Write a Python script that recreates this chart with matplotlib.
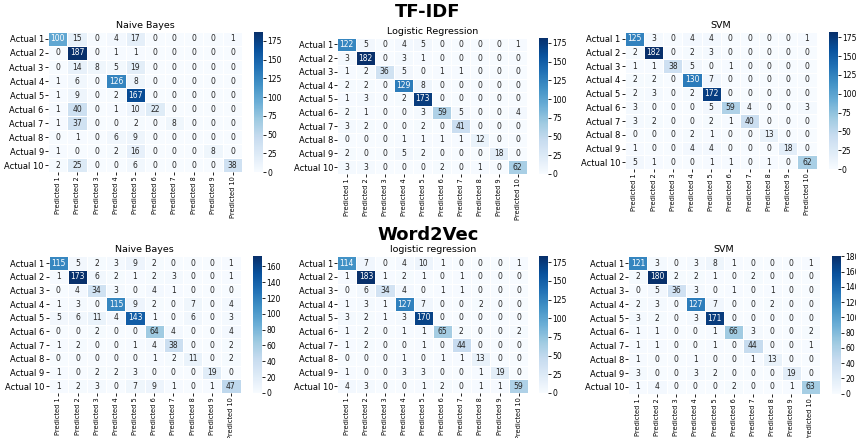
import numpy as np
import matplotlib.pyplot as plt

# confusion matrices (rows = actual, cols = predicted)
tfidf_nb = [
    [100, 15, 0, 4, 17, 0, 0, 0, 0, 1],
    [0, 187, 0, 1, 1, 0, 0, 0, 0, 0],
    [0, 14, 8, 5, 19, 0, 0, 0, 0, 0],
    [1, 6, 0, 126, 8, 0, 0, 0, 0, 0],
    [1, 9, 0, 2, 167, 0, 0, 0, 0, 0],
    [1, 40, 0, 1, 10, 22, 0, 0, 0, 0],
    [1, 37, 0, 0, 2, 0, 8, 0, 0, 0],
    [0, 1, 0, 6, 9, 0, 0, 0, 0, 0],
    [1, 0, 0, 2, 16, 0, 0, 0, 8, 0],
    [2, 25, 0, 0, 6, 0, 0, 0, 0, 38],
]
tfidf_lr = [
    [122, 5, 0, 4, 5, 0, 0, 0, 0, 1],
    [3, 182, 0, 3, 1, 0, 0, 0, 0, 0],
    [1, 2, 36, 5, 0, 1, 1, 0, 0, 0],
    [2, 2, 0, 129, 8, 0, 0, 0, 0, 0],
    [1, 3, 0, 2, 173, 0, 0, 0, 0, 0],
    [2, 1, 0, 0, 3, 59, 5, 0, 0, 4],
    [3, 2, 0, 0, 2, 0, 41, 0, 0, 0],
    [0, 0, 0, 1, 1, 1, 1, 12, 0, 0],
    [2, 0, 0, 5, 2, 0, 0, 0, 18, 0],
    [3, 3, 0, 0, 0, 2, 0, 1, 0, 62],
]
tfidf_svm = [
    [125, 3, 0, 4, 4, 0, 0, 0, 0, 1],
    [2, 182, 0, 2, 3, 0, 0, 0, 0, 0],
    [1, 1, 38, 5, 0, 1, 0, 0, 0, 0],
    [2, 2, 0, 130, 7, 0, 0, 0, 0, 0],
    [2, 3, 0, 2, 172, 0, 0, 0, 0, 0],
    [3, 0, 0, 0, 5, 59, 4, 0, 0, 3],
    [3, 2, 0, 0, 2, 1, 40, 0, 0, 0],
    [0, 0, 0, 2, 1, 0, 0, 13, 0, 0],
    [1, 0, 0, 4, 4, 0, 0, 0, 18, 0],
    [5, 1, 0, 0, 1, 1, 0, 1, 0, 62],
]
w2v_nb = [
    [115, 5, 2, 3, 9, 2, 0, 0, 0, 1],
    [1, 173, 6, 2, 1, 2, 3, 0, 0, 1],
    [0, 4, 34, 3, 0, 4, 1, 0, 0, 0],
    [1, 3, 0, 115, 9, 2, 0, 7, 0, 4],
    [5, 6, 11, 4, 143, 1, 0, 6, 0, 3],
    [0, 0, 2, 0, 0, 64, 4, 0, 0, 4],
    [1, 2, 0, 0, 1, 4, 38, 0, 0, 2],
    [0, 0, 0, 0, 0, 1, 2, 11, 0, 2],
    [1, 0, 2, 2, 3, 0, 0, 0, 19, 0],
    [1, 2, 3, 0, 7, 9, 1, 0, 1, 47],
]
w2v_lr = [
    [114, 7, 0, 4, 10, 1, 0, 0, 0, 1],
    [1, 183, 1, 2, 1, 0, 1, 0, 0, 0],
    [0, 6, 34, 4, 0, 1, 1, 0, 0, 0],
    [1, 3, 1, 127, 7, 0, 0, 2, 0, 0],
    [3, 2, 1, 3, 170, 0, 0, 0, 0, 0],
    [1, 2, 0, 1, 1, 65, 2, 0, 0, 2],
    [1, 2, 0, 0, 1, 0, 44, 0, 0, 0],
    [0, 0, 0, 1, 0, 1, 1, 13, 0, 0],
    [1, 0, 0, 3, 3, 0, 0, 1, 19, 0],
    [4, 3, 0, 0, 1, 2, 0, 1, 1, 59],
]
w2v_svm = [
    [121, 3, 0, 3, 8, 1, 0, 0, 0, 1],
    [2, 180, 2, 2, 1, 0, 2, 0, 0, 0],
    [0, 5, 36, 3, 0, 1, 0, 1, 0, 0],
    [2, 3, 0, 127, 7, 0, 0, 2, 0, 0],
    [3, 2, 0, 3, 171, 0, 0, 0, 0, 0],
    [1, 1, 0, 0, 1, 66, 3, 0, 0, 2],
    [1, 1, 0, 0, 1, 0, 44, 0, 0, 1],
    [1, 0, 0, 1, 0, 0, 1, 13, 0, 0],
    [3, 0, 0, 3, 2, 0, 0, 0, 19, 0],
    [1, 4, 0, 0, 0, 2, 0, 0, 1, 63],
]

row_labels = [f"Actual {i}" for i in range(1, 11)]
col_labels = [f"Predicted {i}" for i in range(1, 11)]

titles = ["Naive Bayes", "Logistic Regression", "SVM",
          "Naive Bayes", "logistic regression", "SVM"]
matrices = [tfidf_nb, tfidf_lr, tfidf_svm, w2v_nb, w2v_lr, w2v_svm]
cbar_steps = [25, 25, 25, 20, 25, 20]

# axes boxes [left, bottom, width, height] and colorbar x positions
boxes = [
    [0.056, 0.607, 0.227, 0.320],
    [0.394, 0.603, 0.222, 0.311],
    [0.730, 0.614, 0.224, 0.313],
    [0.057, 0.103, 0.224, 0.312],
    [0.394, 0.103, 0.223, 0.312],
    [0.734, 0.101, 0.224, 0.314],
]
cbar_x = [0.297, 0.630, 0.968, 0.296, 0.630, 0.972]

fig = plt.figure(figsize=(8.56, 4.38), dpi=100)

for k, mat in enumerate(matrices):
    data = np.array(mat)
    vmax = data.max()
    ax = fig.add_axes(boxes[k])
    mesh = ax.pcolormesh(np.arange(11), np.arange(11), data, cmap="Blues",
                         vmin=0, vmax=vmax, edgecolors="white", linewidth=0.4)
    ax.set_xlim(0, 10)
    ax.set_ylim(10, 0)
    for i in range(10):
        for j in range(10):
            v = data[i, j]
            color = "white" if v > 0.45 * vmax else "#262626"
            ax.text(j + 0.5, i + 0.5, str(v), ha="center", va="center",
                    fontsize=5.5, color=color)
    ax.set_xticks(np.arange(10) + 0.5)
    ax.set_yticks(np.arange(10) + 0.5)
    ax.set_xticklabels(col_labels, rotation=90, fontsize=4.8)
    ax.set_yticklabels(row_labels, fontsize=6)
    ax.tick_params(length=2, width=0.6, pad=1)
    for s in ax.spines.values():
        s.set_visible(False)
    ax.set_title(titles[k], fontsize=6.8, pad=3)

    b = boxes[k]
    cax = fig.add_axes([cbar_x[k], b[1], 0.0105, b[3]])
    cb = fig.colorbar(mesh, cax=cax)
    cb.outline.set_visible(False)
    cb.set_ticks(np.arange(0, vmax + 1, cbar_steps[k]))
    cb.ax.tick_params(labelsize=5.5, length=2, width=0.6, pad=1)

fig.text(0.5, 0.972, "TF-IDF", ha="center", va="center",
         fontsize=13, fontweight="bold")
fig.text(0.5, 0.463, "Word2Vec", ha="center", va="center",
         fontsize=13, fontweight="bold")

fig.savefig("out.png", dpi=100)
